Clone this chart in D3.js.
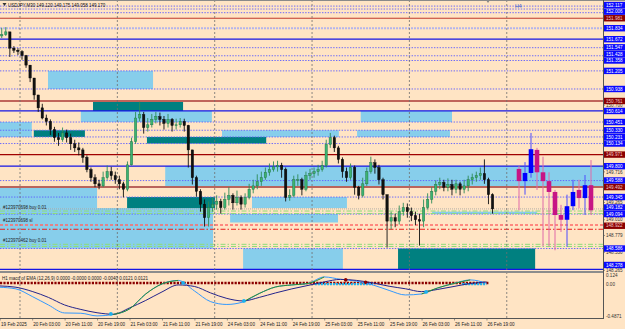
<!DOCTYPE html>
<html>
<head>
<meta charset="utf-8">
<script src="https://cdn.jsdelivr.net/npm/d3@7"></script>
<style>
  body { margin: 0; background: #ffe4c4; }
  svg { display: block; font-family: "Liberation Sans", Arial, sans-serif; }
</style>
</head>
<body>
<script>
// USDJPY M30 chart, candles (one candle per hour)
var firstOpen = 151.72;
var hourClose = [151.74, 151.78, 151.54, 151.51, 151.49, 151.43, 151.29, 151.10, 150.85, 150.66,
  150.51, 150.46, 150.34, 150.22, 150.19, 150.29, 150.22, 150.13, 150.07, 150.04,
  149.93, 149.75, 149.63, 149.54, 149.51, 149.63, 149.72, 149.66, 149.60, 149.54,
  149.46, 149.82, 150.16, 150.51, 150.56, 150.37, 150.41, 150.49, 150.53, 150.49,
  150.43, 150.49, 150.40, 150.41, 150.46, 150.40, 150.04, 149.63, 149.43, 149.24,
  149.04, 149.19, 149.24, 149.28, 149.19, 149.31, 149.37, 149.26, 149.34, 149.24,
  149.34, 149.46, 149.51, 149.57, 149.63, 149.71, 149.75, 149.79, 149.81, 149.75,
  149.34, 149.37, 149.60, 149.60, 149.46, 149.66, 149.69, 149.72, 149.75, 149.81,
  150.12, 150.22, 150.07, 149.90, 149.72, 149.63, 149.78, 149.49, 149.37, 149.54,
  149.72, 149.85, 149.78, 149.60, 149.38, 148.99, 149.04, 148.99, 149.13, 149.19,
  149.13, 149.07, 149.01, 148.99, 149.19, 149.31, 149.43, 149.53, 149.56, 149.49,
  149.53, 149.46, 149.54, 149.46, 149.51, 149.60, 149.63, 149.66, 149.69, 149.60,
  149.38, 149.17];
var hourHigh = [151.84, 151.85, 151.66, 151.57, 151.54, 151.51, 151.44, 151.29, 151.10, 150.85,
  150.72, 150.56, 150.49, 150.38, 150.29, 150.37, 150.34, 150.28, 150.19, 150.15,
  150.07, 149.96, 149.78, 149.68, 149.60, 149.72, 149.81, 149.79, 149.72, 149.66,
  149.57, 149.87, 150.22, 150.60, 150.75, 150.60, 150.51, 150.57, 150.60, 150.59,
  150.54, 150.57, 150.51, 150.50, 150.51, 150.50, 150.41, 150.04, 149.66, 149.46,
  149.31, 149.28, 149.34, 149.37, 149.32, 149.41, 149.49, 149.40, 149.44, 149.37,
  149.40, 149.54, 149.60, 149.68, 149.72, 149.78, 149.84, 149.87, 149.88, 149.85,
  149.78, 149.46, 149.66, 149.68, 149.63, 149.72, 149.76, 149.78, 149.82, 149.88,
  150.19, 150.29, 150.25, 150.10, 149.93, 149.78, 149.84, 149.81, 149.51, 149.63,
  149.78, 149.94, 149.90, 149.82, 149.63, 149.38, 149.13, 149.10, 149.22, 149.26,
  149.25, 149.19, 149.13, 149.10, 149.31, 149.40, 149.49, 149.59, 149.63, 149.60,
  149.62, 149.60, 149.60, 149.57, 149.60, 149.66, 149.69, 149.72, 149.78, 149.90,
  149.63, 149.40];
var hourLow = [151.69, 151.72, 151.41, 151.47, 151.44, 151.37, 151.25, 151.04, 150.78, 150.60,
  150.49, 150.40, 150.26, 150.16, 150.10, 150.16, 150.15, 150.04, 150.01, 149.96,
  149.85, 149.71, 149.57, 149.49, 149.46, 149.49, 149.60, 149.60, 149.54, 149.46,
  149.34, 149.43, 149.81, 150.13, 150.46, 150.28, 150.31, 150.37, 150.43, 150.40,
  150.34, 150.37, 150.31, 150.34, 150.37, 150.31, 149.78, 149.53, 149.35, 149.13,
  148.91, 148.91, 149.13, 149.16, 149.10, 149.16, 149.22, 149.16, 149.22, 149.16,
  149.19, 149.31, 149.40, 149.46, 149.51, 149.60, 149.66, 149.72, 149.72, 149.63,
  149.28, 149.29, 149.34, 149.51, 149.37, 149.43, 149.60, 149.63, 149.66, 149.72,
  149.78, 150.07, 150.01, 149.84, 149.63, 149.57, 149.60, 149.38, 149.31, 149.34,
  149.51, 149.69, 149.69, 149.53, 149.31, 148.60, 148.87, 148.90, 148.94, 149.07,
  149.04, 148.99, 148.93, 148.63, 148.90, 149.16, 149.25, 149.37, 149.46, 149.43,
  149.43, 149.37, 149.40, 149.37, 149.40, 149.43, 149.53, 149.57, 149.60, 149.54,
  149.24, 149.10];

// H4 candles drawn on the right
var h4Open  = [149.76, 149.58, 149.70, 150.04, 149.71, 149.58, 149.42, 149.08, 149.01, 149.21, 149.45, 149.33, 149.52];
var h4Close = [149.58, 149.70, 150.05, 149.71, 149.58, 149.42, 149.08, 149.01, 149.21, 149.42, 149.33, 149.52, 149.15];
var h4High  = [149.80, 149.86, 150.29, 150.07, 149.94, 149.71, 149.45, 149.23, 149.38, 149.60, 149.60, 149.67, 149.89];
var h4Low   = [149.15, 149.38, 149.63, 149.45, 148.62, 148.62, 148.56, 148.83, 148.61, 149.15, 149.18, 149.08, 149.08];

// time axis (hours counted from 19 Feb 19:00, weekend skipped)
var timeLabels = ["19 Feb 2025", "20 Feb 03:00", "20 Feb 11:00", "20 Feb 19:00", "21 Feb 03:00",
  "21 Feb 11:00", "21 Feb 19:00", "24 Feb 03:00", "24 Feb 11:00", "24 Feb 19:00", "25 Feb 03:00",
  "25 Feb 11:00", "25 Feb 19:00", "26 Feb 03:00", "26 Feb 11:00", "26 Feb 19:00"];
var timeLabelHours = [0, 8, 16, 24, 32, 40, 48, 56, 64, 72, 80, 88, 96, 104, 112, 120];
var daySeparatorHours = [5, 29, 53, 77, 101, 125];

// horizontal levels
var dottedLevels = [152.16, 152.117, 152.063, 151.547, 151.428, 151.358, 151.205, 150.938,
  150.451, 150.330, 150.231, 150.134, 149.588, 149.345, 149.094, 148.586];
var lavenderLevels = [151.834];
var blueLevels = [151.672, 150.614, 149.800, 148.278];
var redLevels = [151.981, 150.761, 149.971, 149.492];
var redLevelWidth = [1, 2, 1.2, 2];
var redLevelColor = ["#c0392b", "#c0645a", "#a00000", "#b9645c"];
var greenLevels = [149.139, 149.102, 148.648, 148.616];
var stopLevels = [148.933, 148.870];
var bidPrice = 149.170;

// zones: hours from/to, price top/bottom
var zoneFrom = [11.9, 0, 8.4, 20, 89, 54.8, 88.1, 40.8, 0, 0, 62.2, 56.8, 106.6, 60, 23, 36.3, 31.4, 98.2];
var zoneTo   = [37.8, 7.9, 21, 52.3, 111.5, 83.6, 111, 150, 24, 52.6, 85.6, 83.4, 132.5, 84.6, 45.2, 65.7, 53.1, 132];
var zoneTop  = [151.205, 150.451, 150.330, 150.614, 150.614, 150.330, 150.330, 149.800, 149.492, 149.182,
  149.345, 149.094, 149.13, 148.586, 150.761, 150.231, 149.345, 148.586];
var zoneBot  = [150.938, 150.231, 150.231, 150.451, 150.451, 150.231, 150.231, 149.492, 149.182, 148.586,
  149.182, 148.97, 149.094, 148.278, 150.614, 150.134, 149.182, 148.278];
var zoneKind = ["sky", "sky", "teal", "sky", "sky", "sky", "sky", "sky", "sky", "sky",
  "sky", "sky", "sky", "sky", "teal", "teal", "teal", "teal"];

// price scale boxes
var boxPrices = [152.117, 152.006, 151.981, 151.834, 151.672, 151.547, 151.428, 151.358, 151.205, 150.938,
  150.761, 150.614, 150.451, 150.330, 150.231, 150.134, 149.971, 149.800, 149.588, 149.492,
  149.345, 149.182, 149.094, 148.922, 148.586, 148.278];
var boxIsRed = [0, 0, 1, 0, 0, 0, 0, 0, 0, 0, 1, 0, 0, 0, 0, 0, 1, 0, 0, 1, 0, 0, 0, 1, 0, 0];
var gridPrices = [150.700, 149.716, 149.265, 149.010, 148.779, 148.530, 148.265];

// MACD sub window, sampled every 4 hours
var macdHours  = [0, 4, 8, 12, 16, 20, 24, 28, 32, 36, 40, 44, 48, 52, 56, 60, 64, 68, 72, 76,
  80, 84, 88, 92, 96, 100, 104, 108, 112, 116, 120];
var macdMain   = [-0.060, -0.083, -0.188, -0.306, -0.417, -0.421, -0.458, -0.438, -0.361, -0.153,
  -0.014, 0.035, -0.111, -0.260, -0.299, -0.264, -0.146, -0.056, -0.028, -0.007,
  0.083, 0.051, 0.024, -0.028, -0.104, -0.167, -0.153, -0.069, -0.007, 0.042, -0.004];
var macdSignal = [-0.042, -0.060, -0.118, -0.201, -0.306, -0.368, -0.414, -0.435, -0.347, -0.243,
  -0.125, -0.028, -0.049, -0.139, -0.215, -0.250, -0.201, -0.139, -0.083, -0.035,
  0.014, 0.049, 0.035, 0.000, -0.046, -0.081, -0.121, -0.090, -0.049, -0.008, 0.014];
var greenRanges = [[28, 44], [60, 80], [104, 116]];
var crossUpHours = [27.4, 45.2, 60.2, 105.1];
var crossUpValues = [-0.431, 0.0, -0.25, -0.125];
var crossDownHours = [85.3, 90.2];
var crossDownValues = [0.042, 0.01];
var cyanRanges = [[77.7, 92], [114, 120]];

var width = 625, height = 329;
var plotRight = 603, mainBottom = 271;

var x = d3.scaleLinear().domain([0, 24]).range([-0.28, 97.07]);
var y = d3.scaleLinear().domain([148.24, 152.25]).range([272, 0]);
var xH4 = d3.scaleLinear().domain([0, 12]).range([519, 591]);
var yM = d3.scaleLinear().domain([-0.4871, 0.124]).range([318, 274]);

var svg = d3.select("body").append("svg")
  .attr("width", width)
  .attr("height", height);

svg.append("rect").attr("width", width).attr("height", height).attr("fill", "#ffe4c4");

var defs = svg.append("defs");
defs.append("clipPath").attr("id", "mainClip")
  .append("rect").attr("x", 0).attr("y", 0).attr("width", plotRight).attr("height", mainBottom);

var main = svg.append("g").attr("clip-path", "url(#mainClip)");

// zones
main.selectAll("rect.zone")
  .data(zoneFrom)
  .enter().append("rect")
    .attr("class", "zone")
    .attr("x", function(d) { return x(d); })
    .attr("width", function(d, i) { return x(zoneTo[i]) - x(d); })
    .attr("y", function(d, i) { return y(zoneTop[i]); })
    .attr("height", function(d, i) { return y(zoneBot[i]) - y(zoneTop[i]); })
    .attr("fill", function(d, i) { return zoneKind[i] === "teal" ? "#008080" : "#87ceeb"; });

// day separators (through both windows)
svg.selectAll("line.sep")
  .data(daySeparatorHours)
  .enter().append("line")
    .attr("x1", function(d) { return x(d); })
    .attr("x2", function(d) { return x(d); })
    .attr("y1", 0).attr("y2", 318)
    .attr("stroke", "#6e6e6e")
    .attr("stroke-width", 0.8)
    .attr("stroke-dasharray", "2,2");

function hline(g, price, color, w, dash) {
  var l = g.append("line")
    .attr("x1", 0).attr("x2", plotRight)
    .attr("y1", y(price)).attr("y2", y(price))
    .attr("stroke", color).attr("stroke-width", w);
  if (dash) l.attr("stroke-dasharray", dash);
  return l;
}

dottedLevels.forEach(function(p) { hline(main, p, "#5c5cff", 0.9, "1.4,1.4"); });
lavenderLevels.forEach(function(p) { hline(main, p, "#b4b4ec", 2, "2,1"); });
redLevels.forEach(function(p, i) { hline(main, p, redLevelColor[i], redLevelWidth[i]); });
blueLevels.forEach(function(p) { hline(main, p, "#1414e6", 1.3); });
greenLevels.forEach(function(p) { hline(main, p, "#8fdc7a", 1, "5,2,1.5,2"); });
hline(main, stopLevels[0], "#ff6a6a", 1.5, "3,2");
hline(main, stopLevels[1], "#e8201c", 1, "5,2,1.5,2");
hline(main, bidPrice, "#a0a0a0", 0.8, "1,1");

// order labels
var orderText = ["#123970698 buy 0.01", "#123970698 sl", "#123970462 buy 0.01"];
var orderPrice = [149.139, 148.933, 148.648];
main.selectAll("text.order")
  .data(orderText)
  .enter().append("text")
    .attr("x", 3)
    .attr("y", function(d, i) { return y(orderPrice[i]) - 2.5; })
    .attr("font-size", 4.5)
    .attr("fill", "#222")
    .text(function(d) { return d; });

// hourly candles
var opens = hourClose.map(function(c, i) { return i === 0 ? firstOpen : hourClose[i - 1]; });
var candles = main.append("g");
candles.selectAll("line.wick")
  .data(hourClose)
  .enter().append("line")
    .attr("x1", function(d, i) { return x(i) + 2; })
    .attr("x2", function(d, i) { return x(i) + 2; })
    .attr("y1", function(d, i) { return y(Math.max(hourHigh[i], d, opens[i])); })
    .attr("y2", function(d, i) { return y(Math.min(hourLow[i], d, opens[i])); })
    .attr("stroke", function(d, i) { return d >= opens[i] ? "#2e8b57" : "#111"; })
    .attr("stroke-width", 0.9);
candles.selectAll("rect.body")
  .data(hourClose)
  .enter().append("rect")
    .attr("x", function(d, i) { return x(i) + 0.8; })
    .attr("width", 2.4)
    .attr("y", function(d, i) { return y(Math.max(d, opens[i])); })
    .attr("height", function(d, i) { return Math.max(0.8, Math.abs(y(d) - y(opens[i]))); })
    .attr("fill", function(d, i) { return d >= opens[i] ? "#3cb371" : "#111"; })
    .attr("stroke", function(d, i) { return d >= opens[i] ? "#1f6b40" : "#000"; })
    .attr("stroke-width", 0.4);

// H4 candles
var h4 = main.append("g");
h4.selectAll("line")
  .data(h4Close)
  .enter().append("line")
    .attr("x1", function(d, i) { return xH4(i); })
    .attr("x2", function(d, i) { return xH4(i); })
    .attr("y1", function(d, i) { return y(h4High[i]); })
    .attr("y2", function(d, i) { return y(h4Low[i]); })
    .attr("stroke", function(d, i) { return d >= h4Open[i] ? "#4d4dff" : "#e06aa8"; })
    .attr("stroke-width", 1);
h4.selectAll("rect")
  .data(h4Close)
  .enter().append("rect")
    .attr("x", function(d, i) { return xH4(i) - 2.3; })
    .attr("width", 4.6)
    .attr("y", function(d, i) { return y(Math.max(d, h4Open[i])); })
    .attr("height", function(d, i) { return Math.abs(y(d) - y(h4Open[i])); })
    .attr("fill", function(d, i) { return d >= h4Open[i] ? "#0000ff" : "#c71585"; });

svg.append("text").attr("x", 515).attr("y", 8).attr("font-size", 5.2)
  .attr("fill", "#3a5ccc").text("H4");
svg.append("path").attr("d", "M486,0 L490,0 L488,3 Z").attr("fill", "#888");

// header
svg.append("path").attr("d", "M2.5,3 L6.5,3 L4.5,6 Z").attr("fill", "#333");
svg.append("text").attr("x", 8).attr("y", 6.5).attr("font-size", 4.5).attr("fill", "#111")
  .text("USDJPY,M30  149.120 149.175 149.058 149.170");

// window borders
svg.append("line").attr("x1", 0).attr("x2", width).attr("y1", 0.5).attr("y2", 0.5)
  .attr("stroke", "#8a8a8a").attr("stroke-width", 1);
svg.append("rect").attr("x", 0).attr("y", 271).attr("width", plotRight).attr("height", 2)
  .attr("fill", "#8c8c8c");
svg.append("line").attr("x1", plotRight + 0.5).attr("x2", plotRight + 0.5).attr("y1", 0).attr("y2", 319)
  .attr("stroke", "#555").attr("stroke-width", 1);
svg.append("line").attr("x1", 0).attr("x2", plotRight + 1).attr("y1", 318.5).attr("y2", 318.5)
  .attr("stroke", "#555").attr("stroke-width", 1);

// price scale: grid labels then boxes
var axis = svg.append("g");
axis.selectAll("text.grid")
  .data(gridPrices)
  .enter().append("text")
    .attr("x", 606)
    .attr("y", function(d) { return y(d) + 1.7; })
    .attr("font-size", 4.6)
    .attr("fill", "#333")
    .text(function(d) { return d.toFixed(3); });
axis.selectAll("line.gridtick")
  .data(gridPrices)
  .enter().append("line")
    .attr("x1", plotRight).attr("x2", plotRight + 2)
    .attr("y1", function(d) { return y(d); }).attr("y2", function(d) { return y(d); })
    .attr("stroke", "#555").attr("stroke-width", 0.6);

var boxY = boxPrices.map(function(p) { return y(p); });
var lastY = 265;
for (var k = boxY.length - 1; k >= 0; k--) {
  boxY[k] = Math.min(boxY[k], lastY);
  lastY = boxY[k] - 6.6;
}
var boxes = axis.selectAll("g.box")
  .data(boxPrices)
  .enter().append("g")
    .attr("transform", function(d, i) { return "translate(604," + boxY[i] + ")"; });
boxes.append("rect")
  .attr("x", 0).attr("y", -3.2).attr("width", 21).attr("height", 6.4)
  .attr("fill", function(d, i) { return boxIsRed[i] ? "#8b0000" : "#0a0aff"; });
boxes.append("text")
  .attr("x", 2).attr("y", 1.7)
  .attr("font-size", 4.6)
  .attr("fill", function(d, i) { return boxIsRed[i] ? "#f0c8c8" : "#fff"; })
  .text(function(d) { return d.toFixed(3); });

// MACD window
var sub = svg.append("g");
var zeroY = yM(0);
sub.append("line")
  .attr("x1", 0).attr("x2", x(120.5))
  .attr("y1", zeroY).attr("y2", zeroY)
  .attr("stroke", "#8b0000").attr("stroke-width", 2.6)
  .attr("stroke-dasharray", "2.2,1.2");
cyanRanges.forEach(function(r) {
  sub.append("line")
    .attr("x1", x(r[0])).attr("x2", x(r[1]))
    .attr("y1", yM(-0.018)).attr("y2", yM(-0.018))
    .attr("stroke", "#1ab2f0").attr("stroke-width", 2.2)
    .attr("stroke-dasharray", "2,1");
});

var macdLine = d3.line()
  .x(function(d) { return x(d[0]); })
  .y(function(d) { return yM(d[1]); })
  .curve(d3.curveMonotoneX);
var signalPts = macdHours.map(function(h, i) { return [h, macdSignal[i]]; });
var mainPts = macdHours.map(function(h, i) { return [h, macdMain[i]]; });

sub.append("path").attr("d", macdLine(mainPts))
  .attr("fill", "none").attr("stroke", "#3399ff").attr("stroke-width", 1);
sub.append("path").attr("d", macdLine(signalPts))
  .attr("fill", "none").attr("stroke", "#24248c").attr("stroke-width", 1);
greenRanges.forEach(function(r) {
  var seg = mainPts.filter(function(p) { return p[0] >= r[0] && p[0] <= r[1]; });
  sub.append("path").attr("d", macdLine(seg))
    .attr("fill", "none").attr("stroke", "#2e8b2e").attr("stroke-width", 1);
});
sub.selectAll("circle.up")
  .data(crossUpHours)
  .enter().append("circle")
    .attr("cx", function(d) { return x(d); })
    .attr("cy", function(d, i) { return yM(crossUpValues[i]); })
    .attr("r", 1.9)
    .attr("fill", "#1ab2f0");
sub.selectAll("circle.down")
  .data(crossDownHours)
  .enter().append("circle")
    .attr("cx", function(d) { return x(d); })
    .attr("cy", function(d, i) { return yM(crossDownValues[i]); })
    .attr("r", 1.8)
    .attr("fill", "#8b0000");

sub.append("text").attr("x", 2).attr("y", 279.5).attr("font-size", 4.5).attr("fill", "#222")
  .text("H1 macd of EMA (12,26,9) 0.0000 -0.0000 0.0000 -0.0040 0.0121 0.0121");

var subLabels = ["0.124", "0.00", "-0.4871"];
var subLabelValues = [0.124, 0, -0.4871];
sub.selectAll("text.sub")
  .data(subLabels)
  .enter().append("text")
    .attr("x", 606)
    .attr("y", function(d, i) { return Math.min(yM(subLabelValues[i]) + 3.2, 318); })
    .attr("font-size", 4.6)
    .attr("fill", "#333")
    .text(function(d) { return d; });

// time axis
var timeAxis = svg.append("g");
timeAxis.selectAll("line")
  .data(timeLabelHours)
  .enter().append("line")
    .attr("x1", function(d) { return x(d) + 0.5; })
    .attr("x2", function(d) { return x(d) + 0.5; })
    .attr("y1", 318).attr("y2", 320.5)
    .attr("stroke", "#555").attr("stroke-width", 0.6);
timeAxis.selectAll("text")
  .data(timeLabels)
  .enter().append("text")
    .attr("x", function(d, i) { return Math.max(x(timeLabelHours[i]) + 1, 1); })
    .attr("y", 325.5)
    .attr("font-size", 4.6)
    .attr("fill", "#222")
    .text(function(d) { return d; });
</script>
</body>
</html>
